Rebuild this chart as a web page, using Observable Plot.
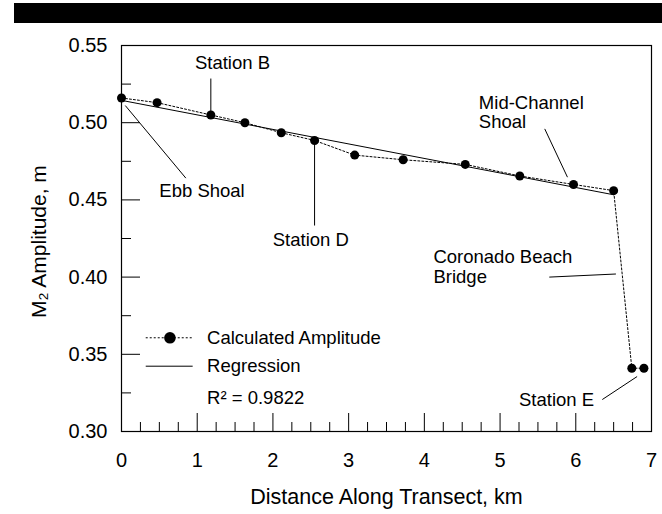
<!DOCTYPE html>
<html><head><meta charset="utf-8">
<script src="https://cdn.jsdelivr.net/npm/d3@7"></script>
<script src="https://cdn.jsdelivr.net/npm/@observablehq/plot@0.6"></script>
<style>
body{margin:0;background:#fff;}
#wrap{position:relative;width:662px;height:514px;}
#bar{position:absolute;left:14px;top:3px;width:648px;height:20px;background:#000;}
#wrap svg{position:absolute;left:0;top:0;}
</style></head><body><div id="wrap"><div id="bar"></div></div>
<script>
// Calculated M2 amplitude along the transect
const distance  = [0, 0.47, 1.18, 1.63, 2.11, 2.55, 3.08, 3.72, 4.54, 5.26, 5.97, 6.50, 6.74, 6.90];
const amplitude = [0.516, 0.513, 0.505, 0.500, 0.4935, 0.4885, 0.479, 0.476, 0.473, 0.4655, 0.460, 0.456, 0.341, 0.341];
const regressionPoints = 12; // Station E excluded from the regression
const xTicks = [0, 1, 2, 3, 4, 5, 6, 7];
const xMinorTicks = [0.25, 0.5, 0.75, 1.25, 1.5, 1.75, 2.25, 2.5, 2.75, 3.25, 3.5, 3.75, 4.25, 4.5, 4.75, 5.25, 5.5, 5.75, 6.25, 6.5, 6.75];
const yTicks = [0.30, 0.35, 0.40, 0.45, 0.50, 0.55];
const yMinorTicks = [0.325, 0.375, 0.425, 0.475, 0.525];
const legendNames = ["Calculated Amplitude", "Regression", "R\u00B2 = 0.9822"];
const xLabel = "Distance Along Transect, km";
const yLabel = "M\u2082 Amplitude, m";

// annotation labels (data coordinates)
const labelText = ["Station B", "Ebb Shoal", "Mid-Channel\nShoal", "Coronado Beach\nBridge", "Station E"];
const labelX    = [0.97, 0.50, 4.72, 4.12, 5.25];
const labelY    = [0.539, 0.456, 0.5068, 0.4068, 0.3203];
const centeredText = ["Station D"];
const centeredX = [2.50];
const centeredY = [0.4237];
// leader lines
const leadX1 = [1.18, 0.05, 2.55, 5.59, 5.65, 6.35];
const leadY1 = [0.5286, 0.5111, 0.4885, 0.4960, 0.4000, 0.3207];
const leadX2 = [1.18, 0.85, 2.55, 5.89, 6.53, 6.81];
const leadY2 = [0.505, 0.4641, 0.4334, 0.4647, 0.4020, 0.3356];
// legend layout (data coordinates)
const legX1 = 0.32, legX2 = 0.94, legDot = 0.64, legText = 1.13;
const legY = [0.3607, 0.3423, 0.3214];
// axis title anchor (data coordinates)
const yLabelX = -1.08, yLabelY = 0.423;

const pts = distance.map((d, i) => ({x: d, y: amplitude[i]}));
const labels = labelText.map((t, i) => ({t, x: labelX[i], y: labelY[i]}));
const centered = centeredText.map((t, i) => ({t, x: centeredX[i], y: centeredY[i]}));
const leaders = leadX1.map((d, i) => ({x1: d, y1: leadY1[i], x2: leadX2[i], y2: leadY2[i]}));

const W = 662, H = 514, mL = 121, mR = 11, mT = 45, mB = 83;
const innerW = W - mL - mR, innerH = H - mT - mB;
const font = "'Liberation Sans', Arial, Helvetica, sans-serif";
const annSize = 18.5;

const chart = Plot.plot({
  width: W, height: H,
  marginLeft: mL, marginRight: mR, marginTop: mT, marginBottom: mB,
  style: {fontFamily: font, fontSize: "18px", color: "#000", background: "transparent"},
  x: {domain: [0, 7]},
  y: {domain: [0.30, 0.55]},
  marks: [
    Plot.frame({stroke: "#000", strokeWidth: 1.2}),
    Plot.ruleX(xTicks, {insetTop: innerH - 18, stroke: "#000"}),
    Plot.ruleX(xMinorTicks, {insetTop: innerH - 9, stroke: "#000"}),
    Plot.ruleY(yTicks, {insetRight: innerW - 19, stroke: "#000"}),
    Plot.ruleY(yMinorTicks, {insetRight: innerW - 10, stroke: "#000"}),
    Plot.axisX({ticks: xTicks, tickSize: 0, tickPadding: 21, tickFormat: d3.format("d"), label: null, fontSize: 20}),
    Plot.axisY({ticks: yTicks, tickSize: 0, tickPadding: 14, tickFormat: d3.format(".2f"), label: null, fontSize: 20}),
    Plot.text([xLabel], {frameAnchor: "bottom", dy: 66, text: d => d, fontSize: 21.5, lineAnchor: "middle"}),
    Plot.text([yLabel], {x: yLabelX, y: yLabelY, rotate: -90, text: d => d, fontSize: 21, lineAnchor: "middle", textAnchor: "middle"}),
    Plot.linearRegressionY(pts.slice(0, regressionPoints), {x: "x", y: "y", ci: 0, stroke: "#000", strokeWidth: 1}),
    Plot.line(pts, {x: "x", y: "y", stroke: "#000", strokeWidth: 1, strokeDasharray: "2,2"}),
    Plot.dot(pts, {x: "x", y: "y", r: 4.5, fill: "#000", stroke: "none"}),
    Plot.link(leaders, {x1: "x1", y1: "y1", x2: "x2", y2: "y2", stroke: "#000", strokeWidth: 1}),
    Plot.text(labels, {x: "x", y: "y", text: "t", textAnchor: "start", fontSize: annSize, lineHeight: 1.05, fill: "#000"}),
    Plot.text(centered, {x: "x", y: "y", text: "t", textAnchor: "middle", fontSize: annSize, fill: "#000"}),
    // legend
    Plot.link([legY[0]], {x1: legX1, x2: legX2, y1: d => d, y2: d => d, stroke: "#000", strokeWidth: 1, strokeDasharray: "2,2"}),
    Plot.dot([legY[0]], {x: legDot, y: d => d, r: 5.8, fill: "#000", stroke: "none"}),
    Plot.link([legY[1]], {x1: legX1, x2: legX2, y1: d => d, y2: d => d, stroke: "#000", strokeWidth: 1}),
    Plot.text(legendNames, {x: legText, y: (d, i) => legY[i], text: d => d, textAnchor: "start", fontSize: annSize, fill: "#000"})
  ]
});
document.getElementById("wrap").appendChild(chart);
</script></body></html>
